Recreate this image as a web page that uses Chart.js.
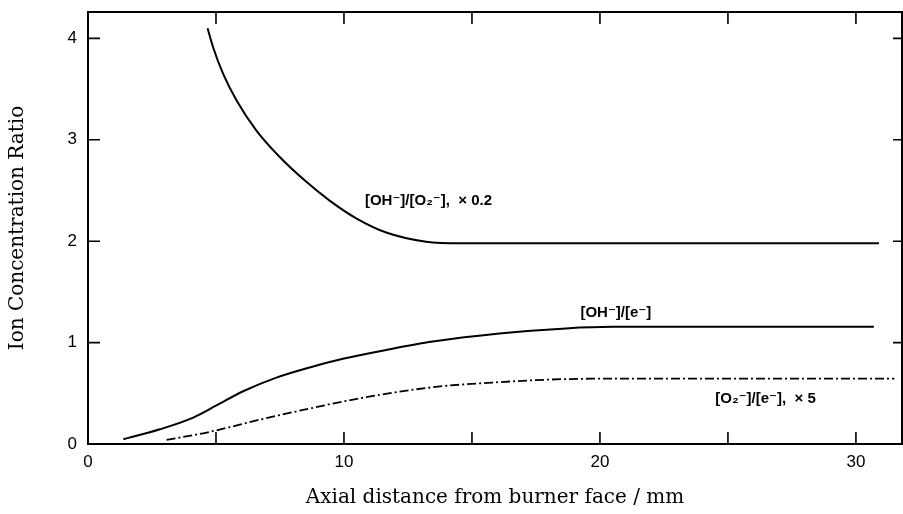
<!DOCTYPE html>
<html>
<head>
<meta charset="utf-8">
<script src="https://cdn.jsdelivr.net/npm/chart.js@4"></script>
<style>
  html, body { margin: 0; padding: 0; background: #fff; }
  #wrap { width: 903px; height: 514px; }
</style>
</head>
<body>
<div id="wrap"><canvas id="myChart"></canvas></div>
<script>
// [OH-]/[O2-], x 0.2
const ohO2X = [4.67, 4.89, 5.28, 5.80, 6.58, 7.49, 8.53, 9.44, 10.48, 11.65, 13.21, 14.6, 16, 20, 25, 30.9];
const ohO2Y = [4.10, 3.91, 3.65, 3.39, 3.09, 2.83, 2.585, 2.40, 2.225, 2.085, 1.995, 1.98, 1.98, 1.98, 1.98, 1.98];
// [OH-]/[e-]
const ohEX = [1.38, 2.81, 4.11, 5.02, 6.06, 7.36, 8.66, 9.96, 11.7, 13.47, 16.07, 18.67, 20.5, 25, 30.7];
const ohEY = [0.046, 0.145, 0.26, 0.38, 0.52, 0.655, 0.755, 0.84, 0.93, 1.01, 1.09, 1.14, 1.155, 1.155, 1.155];
// [O2-]/[e-], x 5
const o2EX = [3.07, 4.76, 6.71, 8.66, 10.61, 13.47, 16.07, 18.67, 21.3, 31.5];
const o2EY = [0.04, 0.12, 0.24, 0.35, 0.45, 0.56, 0.61, 0.64, 0.645, 0.645];

const seriesLabels = ['[OH\u207B]/[O\u2082\u207B],  \u00D7 0.2', '[OH\u207B]/[e\u207B]', '[O\u2082\u207B]/[e\u207B],  \u00D7 5'];
// where each curve label sits, in data units
const labelX = [13.3, 20.62, 26.47];
const labelY = [2.40, 1.29, 0.45];

function toPoints(xs, ys) {
    var pts = [];
    for (var i = 0; i < xs.length; i++) pts.push({x: xs[i], y: ys[i]});
    return pts;
}

// frame, inward ticks and curve labels
const framePlugin = {
    id: 'frame',
    afterDraw(chart) {
        const ctx = chart.ctx;
        const a = chart.chartArea;
        const xs = chart.scales.x, ys = chart.scales.y;
        ctx.save();
        ctx.strokeStyle = '#000';
        ctx.lineWidth = 2;
        ctx.strokeRect(a.left, a.top, a.right - a.left, a.bottom - a.top);
        ctx.lineWidth = 1.6;
        ctx.beginPath();
        xs.ticks.forEach(t => {
            const px = xs.getPixelForValue(t.value);
            ctx.moveTo(px, a.bottom); ctx.lineTo(px, a.bottom - 12);
            ctx.moveTo(px, a.top); ctx.lineTo(px, a.top + 12);
        });
        ys.ticks.forEach(t => {
            const py = ys.getPixelForValue(t.value);
            ctx.moveTo(a.left, py); ctx.lineTo(a.left + 12, py);
            ctx.moveTo(a.right, py); ctx.lineTo(a.right - 9, py);
        });
        ctx.stroke();

        ctx.fillStyle = '#000';
        ctx.font = 'bold 15px "Liberation Sans", "DejaVu Sans", sans-serif';
        ctx.textAlign = 'center';
        ctx.textBaseline = 'middle';
        for (var i = 0; i < seriesLabels.length; i++) {
            ctx.fillText(seriesLabels[i], xs.getPixelForValue(labelX[i]), ys.getPixelForValue(labelY[i]));
        }
        ctx.restore();
    }
};

const lineStyle = {
    showLine: true,
    pointRadius: 0,
    borderColor: '#000',
    borderWidth: 2,
    fill: false,
    cubicInterpolationMode: 'monotone'
};

const config = {
    type: 'scatter',
    data: {
        datasets: [
            Object.assign({label: seriesLabels[0], data: toPoints(ohO2X, ohO2Y)}, lineStyle),
            Object.assign({label: seriesLabels[1], data: toPoints(ohEX, ohEY)}, lineStyle),
            Object.assign({label: seriesLabels[2], data: toPoints(o2EX, o2EY)}, lineStyle, {borderDash: [9, 3, 2, 3], borderWidth: 1.8})
        ]
    },
    options: {
        responsive: true,
        maintainAspectRatio: false,
        animation: false,
        layout: { padding: { top: 12, right: 1, left: 0, bottom: 0 } },
        plugins: { legend: { display: false }, tooltip: { enabled: false } },
        scales: {
            x: {
                type: 'linear',
                min: 0,
                max: 31.8,
                grid: { display: false, drawTicks: false },
                border: { display: false },
                ticks: {
                    stepSize: 5,
                    includeBounds: false,
                    autoSkip: false,
                    maxRotation: 0,
                    padding: 8,
                    color: '#000',
                    font: { family: '"Liberation Sans", sans-serif', size: 17 },
                    callback: v => (v % 10 === 0 ? v : '')
                },
                title: {
                    display: true,
                    text: 'Axial distance from burner face / mm',
                    color: '#000',
                    font: { family: '"DejaVu Serif", serif', size: 20 },
                    padding: { top: 0, bottom: 4 }
                },
                afterFit: s => { s.height = 70; s.paddingLeft = 0; s.paddingRight = 0; }
            },
            y: {
                type: 'linear',
                min: 0,
                max: 4.26,
                grid: { display: false, drawTicks: false },
                border: { display: false },
                ticks: {
                    stepSize: 1,
                    includeBounds: false,
                    padding: 11,
                    color: '#000',
                    font: { family: '"Liberation Sans", sans-serif', size: 17 }
                },
                title: {
                    display: true,
                    text: 'Ion Concentration Ratio',
                    color: '#000',
                    font: { family: '"DejaVu Serif", serif', size: 20 },
                    padding: { top: 6, bottom: 0 }
                },
                afterFit: s => { s.width = 88; s.paddingTop = 0; s.paddingBottom = 0; }
            }
        }
    },
    plugins: [framePlugin]
};

new Chart(document.getElementById('myChart'), config);
</script>
</body>
</html>
